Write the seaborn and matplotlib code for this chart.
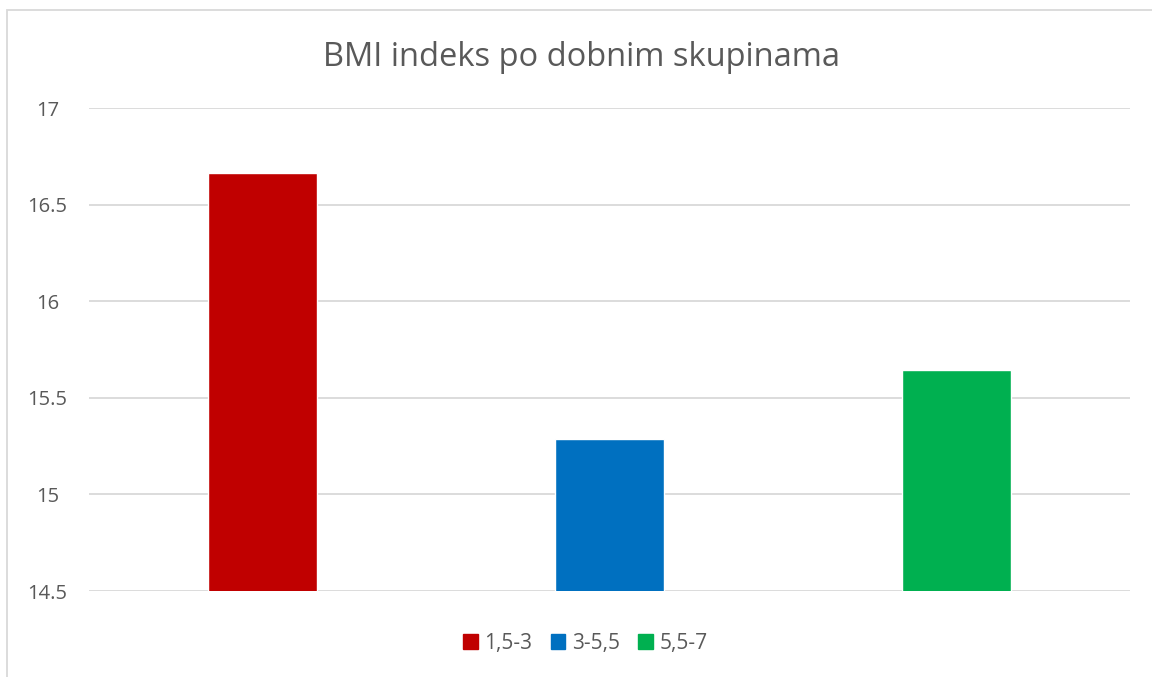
import matplotlib
matplotlib.use("Agg")
import matplotlib.pyplot as plt
import matplotlib.patches as mpatches
import seaborn as sns
import pandas as pd

# Data
groups = ["1,5-3", "3-5,5", "5,5-7"]
bmi = [16.665, 15.285, 15.645]
colors = ["#C00000", "#0070C0", "#00B050"]

df = pd.DataFrame({"group": groups, "bmi": bmi})

sns.set_style("white")
plt.rcParams["font.family"] = ["Open Sans", "DejaVu Sans"]

fig = plt.figure(figsize=(11.52, 6.77), dpi=100)
ax = fig.add_axes([89 / 1152, 1 - 591 / 677, (1130 - 89) / 1152, (591 - 108) / 677])

sns.barplot(data=df, x="group", y="bmi", hue="group", palette=colors,
            width=0.317, dodge=False, legend=False, ax=ax, saturation=1)

ax.set_ylim(14.5, 17)
ax.set_yticks([14.5, 15, 15.5, 16, 16.5, 17])
ax.set_yticklabels(["14.5", "15", "15.5", "16", "16.5", "17"])
ax.set_xlim(-0.5, 2.5)
ax.set_xticks([])
ax.set_xlabel("")
ax.set_ylabel("")
ax.grid(axis="y", color="#D9D9D9", linewidth=1.3)
ax.set_axisbelow(True)
for s in ax.spines.values():
    s.set_visible(False)
ax.tick_params(axis="y", length=0, labelsize=14.5, labelcolor="#595959", pad=30)
for lbl in ax.get_yticklabels():
    lbl.set_horizontalalignment("center")

fig.text(0.505, 1 - 57 / 677, "BMI indeks po dobnim skupinama",
         ha="center", va="center", fontsize=23.5, color="#595959")

handles = [mpatches.Patch(color=c, label=g) for c, g in zip(colors, groups)]
fig.legend(handles=handles, loc="center", bbox_to_anchor=(0.508, 1 - 643 / 677),
           ncol=3, frameon=False, fontsize=15, labelcolor="#595959",
           handlelength=0.7, handleheight=0.7, handletextpad=0.3, columnspacing=0.9)

# outer chart border (left and top visible)
fig.add_artist(mpatches.Rectangle((7 / 1152, -0.1), 1.2, 1 - 10 / 677 + 0.1,
                                  transform=fig.transFigure, fill=False,
                                  edgecolor="#D9D9D9", linewidth=1.3))

fig.savefig("out.png", dpi=100)
